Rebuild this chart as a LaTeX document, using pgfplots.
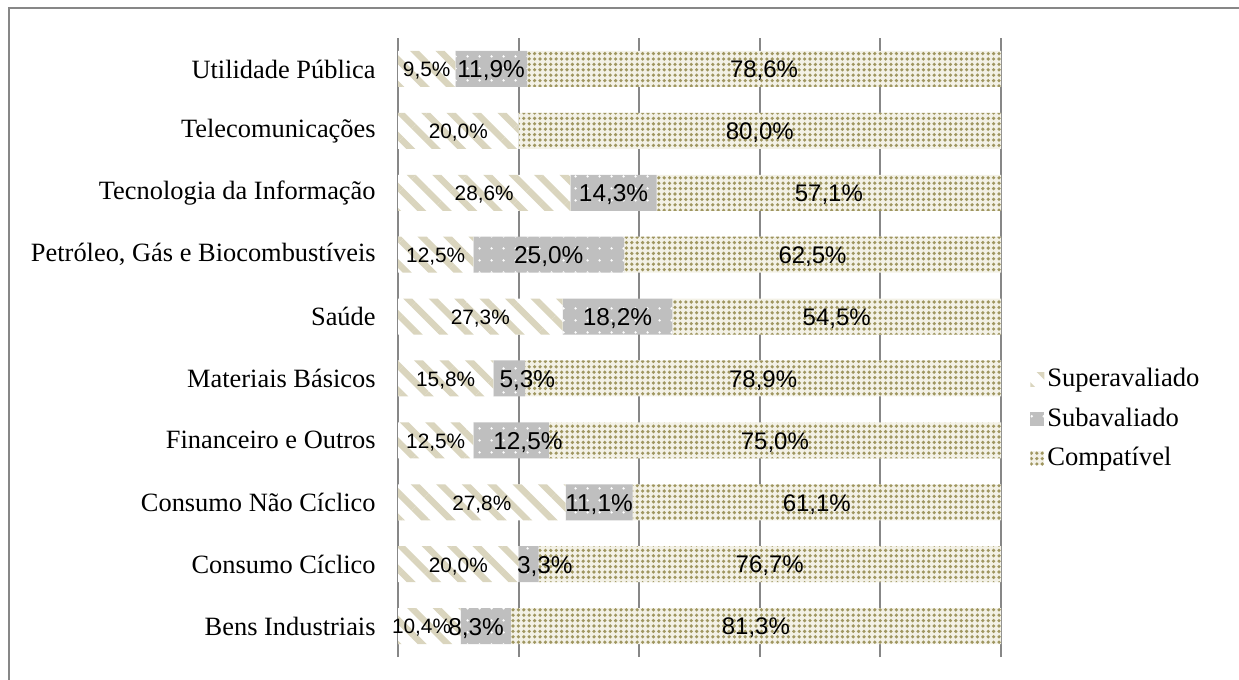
\documentclass[border=0pt]{standalone}
\usepackage{fontspec}
\setmainfont{Liberation Serif}
\newfontfamily\arial{Liberation Sans}
\usepackage{pgfplots}
\usepackage{pgfplotstable}
\pgfplotsset{compat=1.18}
\usetikzlibrary{patterns.meta}

\definecolor{supc}{HTML}{DAD5BE}
\definecolor{subc}{HTML}{BFBFBF}
\definecolor{compbg}{HTML}{F3F1E6}
\definecolor{compdot}{HTML}{9F9660}
\definecolor{gridc}{HTML}{878787}

% setores, de baixo para cima; dsup/dsub = deslocamento dos rotulos (em %)
\pgfplotstableread{
y sup sub comp dsup dsub
0 10.4 8.3 81.3 -1.3 -1.6
1 20.0 3.3 76.7 0 2.7
2 27.8 11.1 61.1 0 0
3 12.5 12.5 75.0 0 2.8
4 15.8 5.3 78.9 0 3.0
5 27.3 18.2 54.5 0 0
6 12.5 25.0 62.5 0 0
7 28.6 14.3 57.1 0 0
8 20.0 0.0 80.0 0 0
9 9.5 11.9 78.6 0 0
}\dados

\pgfplotsset{
  base/.style={
    at={(199bp,11.5bp)}, anchor=south west,
    scale only axis, width=301.5bp, height=309.5bp,
    xmin=0, xmax=100, ymin=-0.5, ymax=9.5,
  },
  rotulo/.style={
    draw=none, mark=none, point meta=explicit,
    nodes near coords={\pgfmathprintnumber[fixed,fixed zerofill,precision=1,use comma,assume math mode=true]{\pgfplotspointmeta}\%},
    every node near coord/.append style={anchor=center, inner sep=0pt, yshift=-1bp, text=black, font=\arial\fontsize{#1}{#1}\selectfont},
  },
}

\begin{document}
\begin{tikzpicture}
\useasboundingbox (0,0) rectangle (619.5bp,340bp);
\draw[gridc, line width=1bp] (4.5bp,0) -- (4.5bp,336bp) -- (619.5bp,336bp);

\begin{axis}[
    base,
    xbar stacked,
    bar width=18bp,
    axis line style={draw=none},
    major tick length=0pt,
    xtick={0,20,...,100},
    xticklabels={},
    xmajorgrids=true,
    grid style={gridc, line width=1bp},
    ytick={0,...,9},
    yticklabels={Bens Industriais, Consumo Cíclico, Consumo Não Cíclico, Financeiro e Outros, Materiais Básicos, Saúde, {Petróleo, Gás e Biocombustíveis}, Tecnologia da Informação, Telecomunicações, Utilidade Pública},
    yticklabel style={font=\fontsize{13.2bp}{15bp}\selectfont, inner sep=0pt, xshift=-11bp},
    legend image code/.code={\path[#1] (0bp,-3.5bp) rectangle (7bp,3.5bp);},
    legend cell align=left,
    legend style={draw=none, fill=none, at={(1.048,0.385)}, anchor=west,
      font=\fontsize{13.3bp}{15bp}\selectfont, row sep=6bp, inner sep=0pt,
      nodes={inner sep=1.5bp}},
]
\addplot[draw=none, fill=white, postaction={pattern={Lines[angle=-45,distance=9bp,line width=3.2bp]}, pattern color=supc}]
  table[x=sup, y=y]{\dados};
\addlegendentry{Superavaliado}
\addplot[draw=none, fill=subc, postaction={pattern={Dots[radius=0.7bp,distance=6bp]}, pattern color=white}]
  table[x=sub, y=y]{\dados};
\addlegendentry{Subavaliado}
\addplot[draw=none, fill=compbg, postaction={pattern={Dots[radius=0.9bp,distance=2.7bp]}, pattern color=compdot}]
  table[x=comp, y=y]{\dados};
\addlegendentry{Compatível}
\end{axis}

% rótulos no centro de cada segmento
\begin{axis}[base, hide axis]
\addplot[rotulo=10.4bp] table[x expr=\thisrow{sup}/2+\thisrow{dsup}, y=y, meta=sup]{\dados};
\addplot[rotulo=12.2bp, skip coords between index={8}{9}]
  table[x expr=\thisrow{sup}+\thisrow{sub}/2+\thisrow{dsub}, y=y, meta=sub]{\dados};
\addplot[rotulo=12bp] table[x expr=\thisrow{sup}+\thisrow{sub}+\thisrow{comp}/2, y=y, meta=comp]{\dados};
\end{axis}
\end{tikzpicture}
\end{document}
